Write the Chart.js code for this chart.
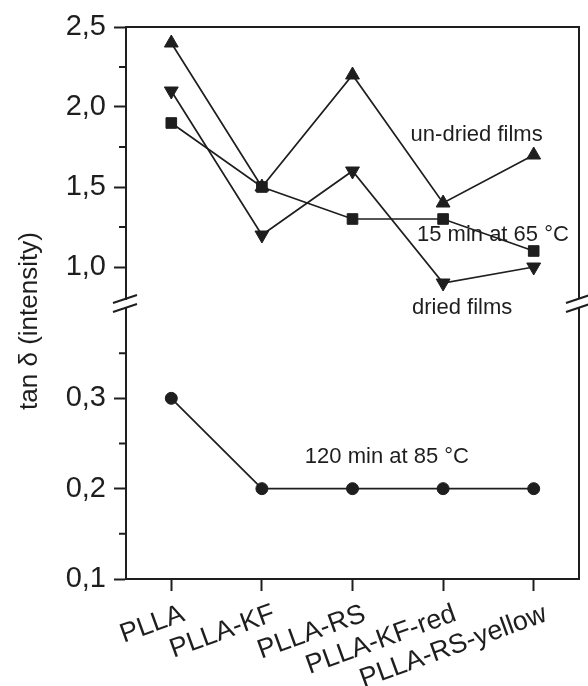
<!DOCTYPE html>
<html>
<head>
<meta charset="utf-8">
<script src="https://cdn.jsdelivr.net/npm/chart.js@4.4.1/dist/chart.umd.min.js"></script>
<style>
  html, body { margin: 0; padding: 0; background: #fff; }
  #wrap { width: 588px; height: 686px; }
</style>
</head>
<body>
<div id="wrap"><canvas id="tanChart"></canvas></div>
<script>
const samples = ['PLLA', 'PLLA-KF', 'PLLA-RS', 'PLLA-KF-red', 'PLLA-RS-yellow'];
const undried = [2.4, 1.5, 2.2, 1.4, 1.7];   // up triangles
const dried15 = [1.9, 1.5, 1.3, 1.3, 1.1];   // squares
const dried = [2.1, 1.2, 1.6, 0.9, 1.0];     // down triangles
const dried120 = [0.3, 0.2, 0.2, 0.2, 0.2];  // circles

// broken y axis: upper and lower part
const upperRange = [0.8, 2.5];
const lowerRange = [0.1, 0.4];
const upperMajor = [1.0, 1.5, 2.0, 2.5];
const lowerMajor = [0.1, 0.2, 0.3];
const upperMinor = [1.25, 1.75, 2.25];
const lowerMinor = [0.15, 0.25, 0.35];

const yTitle = 'tan δ (intensity)';
const notes = [
    { text: 'un-dried films', x: 3.37, y: 1.825, axis: 'yTop' },
    { text: '15 min at 65 °C', x: 3.55, y: 1.2, axis: 'yTop' },
    { text: 'dried films', x: 3.21, y: 0.4, axis: 'yBot' },
    { text: '120 min at 85 °C', x: 2.38, y: 0.235, axis: 'yBot' },
];

const INK = '#1e1e1e';
const FONT = '"Liberation Sans", Arial, Helvetica, sans-serif';

function series( data, axis, style, radius, rotation ) {
    return {
        data: data,
        yAxisID: axis,
        borderColor: INK,
        backgroundColor: INK,
        borderWidth: 1.7,
        pointStyle: style,
        pointRadius: radius,
        pointRotation: rotation || 0,
        pointBorderWidth: 1,
        tension: 0,
        fill: false,
    };
}

function leftAxis( range, major, weight ) {
    return {
        type: 'linear',
        position: 'left',
        stack: 'tan',
        stackWeight: weight,
        min: range[0],
        max: range[1],
        afterBuildTicks: (axis) => { axis.ticks = major.map(v => ({ value: v })); },
        afterFit: (axis) => { axis.width = 126; },
        ticks: {
            color: INK,
            padding: 8,
            font: { family: FONT, size: 29 },
            callback: (v) => Number(v).toFixed(1).replace('.', ','),
        },
        grid: { drawOnChartArea: false, drawTicks: true, tickLength: 12, tickWidth: 2, tickColor: INK },
        border: { display: true, width: 2, color: INK },
    };
}

// frame, minor ticks, axis break, y title and text notes
const decorations = {
    id: 'decorations',
    afterDraw(chart) {
        const ctx = chart.ctx;
        const area = chart.chartArea;
        const top = chart.scales.yTop;
        const bot = chart.scales.yBot;
        const x = chart.scales.x;

        ctx.save();
        ctx.strokeStyle = INK;
        ctx.lineWidth = 2;
        ctx.beginPath();
        ctx.moveTo(area.left, area.top);
        ctx.lineTo(area.right, area.top);
        ctx.lineTo(area.right, top.bottom);
        ctx.moveTo(area.right, bot.top);
        ctx.lineTo(area.right, area.bottom);

        // minor ticks
        upperMinor.forEach(v => {
            const y = top.getPixelForValue(v);
            ctx.moveTo(area.left - 7, y);
            ctx.lineTo(area.left, y);
        });
        lowerMinor.forEach(v => {
            const y = bot.getPixelForValue(v);
            ctx.moveTo(area.left - 7, y);
            ctx.lineTo(area.left, y);
        });
        ctx.stroke();

        // break marks on both sides
        ctx.lineWidth = 2;
        [area.left, area.right].forEach(bx => {
            ctx.beginPath();
            ctx.moveTo(bx - 13, top.bottom + 4);
            ctx.lineTo(bx + 11, top.bottom - 4);
            ctx.moveTo(bx - 13, bot.top + 4);
            ctx.lineTo(bx + 11, bot.top - 4);
            ctx.stroke();
        });

        ctx.fillStyle = INK;
        ctx.textAlign = 'center';
        ctx.textBaseline = 'middle';
        ctx.font = '22px ' + FONT;
        notes.forEach(n => {
            const scale = chart.scales[n.axis];
            const px = x.getPixelForValue(0) + n.x * (x.getPixelForValue(1) - x.getPixelForValue(0));
            ctx.fillText(n.text, px, scale.getPixelForValue(n.y));
        });

        ctx.translate(30, 321);
        ctx.rotate(-Math.PI / 2);
        ctx.font = '26px ' + FONT;
        ctx.fillText(yTitle, 0, 0);
        ctx.restore();
    },
};

const ctx = document.getElementById('tanChart').getContext('2d');
const tanChart = new Chart(ctx, {
    type: 'line',
    data: {
        labels: samples,
        datasets: [
            series(undried, 'yTop', 'triangle', 8),
            series(dried15, 'yTop', 'rect', 7.5),
            series(dried, 'yTop', 'triangle', 8, 180),
            series(dried120, 'yBot', 'circle', 6),
        ],
    },
    options: {
        responsive: true,
        maintainAspectRatio: false,
        animation: false,
        events: [],
        layout: { padding: { top: 27, right: 9, left: 0, bottom: 0 } },
        plugins: {
            legend: { display: false },
            tooltip: { enabled: false },
        },
        scales: {
            x: {
                type: 'category',
                offset: true,
                afterFit: (axis) => { axis.height = 107; },
                ticks: {
                    color: INK,
                    autoSkip: false,
                    minRotation: 20,
                    maxRotation: 20,
                    padding: 7,
                    labelOffset: 12,
                    font: { family: FONT, size: 27 },
                },
                grid: { drawOnChartArea: false, drawTicks: true, tickLength: 12, tickWidth: 2, tickColor: INK },
                border: { display: true, width: 2, color: INK },
            },
            yBot: leftAxis(lowerRange, lowerMajor, 271),
            yGap: { type: 'linear', position: 'left', stack: 'tan', stackWeight: 9, display: false },
            yTop: leftAxis(upperRange, upperMajor, 272),
        },
    },
    plugins: [decorations],
});
</script>
</body>
</html>
